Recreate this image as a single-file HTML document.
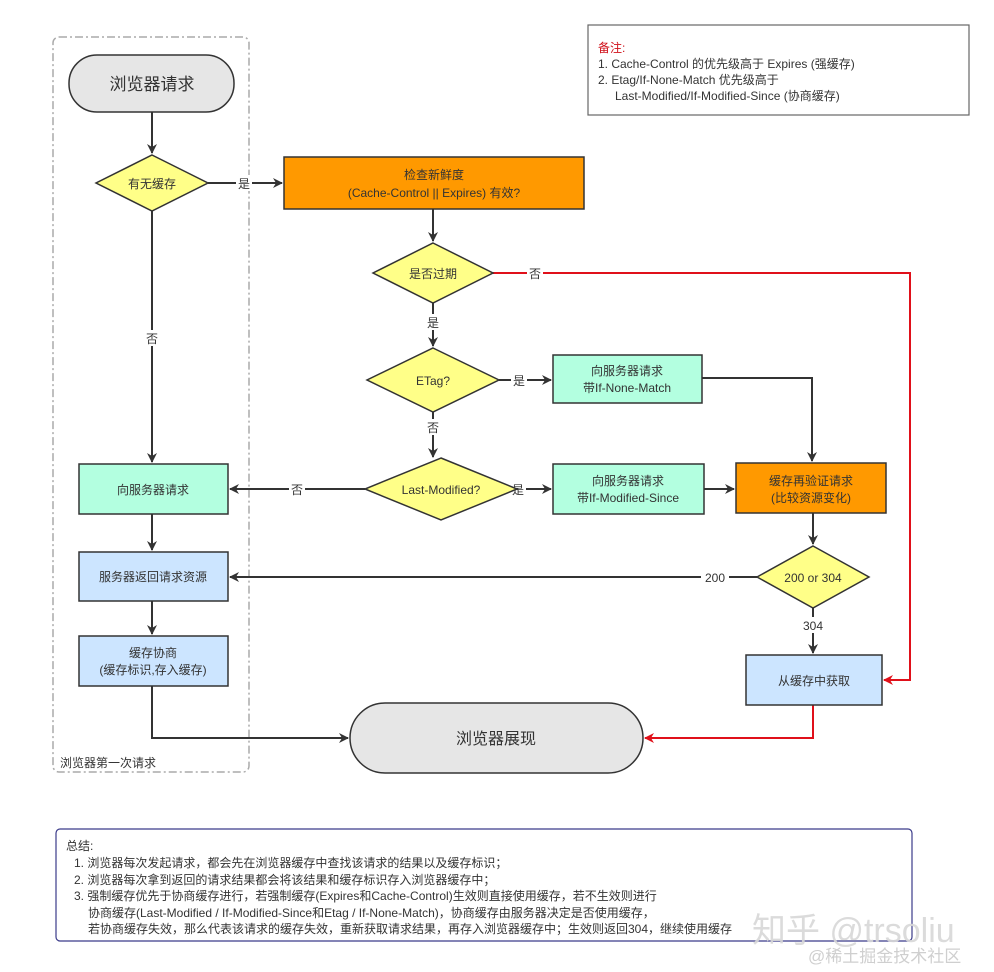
<!DOCTYPE html>
<html><head><meta charset="utf-8"><style>
html,body{margin:0;padding:0;background:#fff}
svg text{font-family:"Liberation Sans","Noto Sans CJK SC",sans-serif;fill:#333}
</style></head><body>
<svg width="994" height="967" viewBox="0 0 994 967" xmlns="http://www.w3.org/2000/svg">
<defs>
<marker id="a" markerWidth="10" markerHeight="10" refX="9" refY="5" orient="auto" markerUnits="userSpaceOnUse"><path d="M0,0 L10,5 L0,10 L3,5 Z" fill="#333"/></marker>
<marker id="r" markerWidth="10" markerHeight="10" refX="9" refY="5" orient="auto" markerUnits="userSpaceOnUse"><path d="M0,0 L10,5 L0,10 L3,5 Z" fill="#e0101a"/></marker>
</defs>
<rect x="53" y="37" width="196" height="735" rx="6" fill="none" stroke="#aaa" stroke-width="1.5" stroke-dasharray="8,3,2,3"/>
<text x="60" y="767" font-size="12">浏览器第一次请求</text>

<g stroke="#333" stroke-width="2" fill="none">
<path d="M152,112 V153" marker-end="url(#a)"/>
<path d="M152,211 V462" marker-end="url(#a)"/>
<path d="M152,514 V550" marker-end="url(#a)"/>
<path d="M152,601 V634" marker-end="url(#a)"/>
<path d="M152,686 V738 H348" marker-end="url(#a)"/>
<path d="M208,183 H282" marker-end="url(#a)"/>
<path d="M433,209 V241" marker-end="url(#a)"/>
<path d="M433,303 V346" marker-end="url(#a)"/>
<path d="M499,380 H551" marker-end="url(#a)"/>
<path d="M702,378 H812 V461" marker-end="url(#a)"/>
<path d="M433,412 V457" marker-end="url(#a)"/>
<path d="M365,489 H230" marker-end="url(#a)"/>
<path d="M517,489 H551" marker-end="url(#a)"/>
<path d="M704,489 H734" marker-end="url(#a)"/>
<path d="M813,513 V544" marker-end="url(#a)"/>
<path d="M757,577 H230" marker-end="url(#a)"/>
<path d="M813,608 V653" marker-end="url(#a)"/>
</g>
<g stroke="#e0101a" stroke-width="2" fill="none">
<path d="M493,273 H910 V680 H884" marker-end="url(#r)"/>
<path d="M813,705 V738 H645" marker-end="url(#r)"/>
</g>
<g font-size="12" text-anchor="middle">
<rect x="236" y="175" width="16" height="16" fill="#fff"/><text x="244" y="188">是</text>
<rect x="144" y="330" width="16" height="16" fill="#fff"/><text x="152" y="343">否</text>
<rect x="527" y="265" width="16" height="16" fill="#fff"/><text x="535" y="278">否</text>
<rect x="425" y="314" width="16" height="16" fill="#fff"/><text x="433" y="327">是</text>
<rect x="511" y="372" width="16" height="16" fill="#fff"/><text x="519" y="385">是</text>
<rect x="425" y="419" width="16" height="16" fill="#fff"/><text x="433" y="432">否</text>
<rect x="289" y="481" width="16" height="16" fill="#fff"/><text x="297" y="494">否</text>
<rect x="510" y="481" width="16" height="16" fill="#fff"/><text x="518" y="494">是</text>
<rect x="701" y="569" width="28" height="16" fill="#fff"/><text x="715" y="582">200</text>
<rect x="799" y="617" width="28" height="16" fill="#fff"/><text x="813" y="630">304</text>
</g>

<g stroke="#333" stroke-width="1.5">
<rect x="69" y="55" width="165" height="57" rx="28" fill="#e6e6e6"/>
<rect x="350" y="703" width="293" height="70" rx="35" fill="#e6e6e6"/>
<polygon points="152,155 208,183 152,211 96,183" fill="#ffff88"/>
<polygon points="433,243 493,273 433,303 373,273" fill="#ffff88"/>
<polygon points="433,348 499,380 433,412 367,380" fill="#ffff88"/>
<polygon points="441,458 517,489 441,520 365,489" fill="#ffff88"/>
<polygon points="813,546 869,577 813,608 757,577" fill="#ffff88"/>
<rect x="284" y="157" width="300" height="52" fill="#ff9900"/>
<rect x="736" y="463" width="150" height="50" fill="#ff9900"/>
<rect x="553" y="355" width="149" height="48" fill="#b3ffe0"/>
<rect x="553" y="464" width="151" height="50" fill="#b3ffe0"/>
<rect x="79" y="464" width="149" height="50" fill="#b3ffe0"/>
<rect x="79" y="552" width="149" height="49" fill="#cce5ff"/>
<rect x="79" y="636" width="149" height="50" fill="#cce5ff"/>
<rect x="746" y="655" width="136" height="50" fill="#cce5ff"/>
</g>
<g text-anchor="middle" font-size="12">
<text x="152" y="90" font-size="17">浏览器请求</text>
<text x="496" y="744" font-size="16">浏览器展现</text>
<text x="152" y="188">有无缓存</text>
<text x="433" y="278">是否过期</text>
<text x="433" y="385">ETag?</text>
<text x="441" y="494">Last-Modified?</text>
<text x="813" y="582">200 or 304</text>
<text x="434" y="179">检查新鲜度</text>
<text x="434" y="197">(Cache-Control || Expires) 有效?</text>
<text x="811" y="485">缓存再验证请求</text>
<text x="811" y="502">(比较资源变化)</text>
<text x="627" y="375">向服务器请求</text>
<text x="627" y="392">带If-None-Match</text>
<text x="628" y="485">向服务器请求</text>
<text x="628" y="502">带If-Modified-Since</text>
<text x="153" y="494">向服务器请求</text>
<text x="153" y="581">服务器返回请求资源</text>
<text x="153" y="657">缓存协商</text>
<text x="153" y="674">(缓存标识,存入缓存)</text>
<text x="814" y="685">从缓存中获取</text>
</g>

<rect x="588" y="25" width="381" height="90" fill="#fff" stroke="#666" stroke-width="1.2"/>
<g font-size="12">
<text x="598" y="52" style="fill:#d0101a">备注:</text>
<text x="598" y="68">1. Cache-Control 的优先级高于 Expires (强缓存)</text>
<text x="598" y="84">2. Etag/If-None-Match 优先级高于</text>
<text x="615" y="100">Last-Modified/If-Modified-Since (协商缓存)</text>
</g>

<rect x="56" y="829" width="856" height="112" rx="4" fill="#fff" stroke="#3b3b8a" stroke-width="1.2"/>
<g font-size="12">
<text x="66" y="850">总结:</text>
<text x="74" y="867">1. 浏览器每次发起请求，都会先在浏览器缓存中查找该请求的结果以及缓存标识；</text>
<text x="74" y="884">2. 浏览器每次拿到返回的请求结果都会将该结果和缓存标识存入浏览器缓存中；</text>
<text x="74" y="900">3. 强制缓存优先于协商缓存进行，若强制缓存(Expires和Cache-Control)生效则直接使用缓存，若不生效则进行</text>
<text x="88" y="917">协商缓存(Last-Modified / If-Modified-Since和Etag / If-None-Match)，协商缓存由服务器决定是否使用缓存，</text>
<text x="88" y="933">若协商缓存失效，那么代表该请求的缓存失效，重新获取请求结果，再存入浏览器缓存中；生效则返回304，继续使用缓存</text>
</g>
<text x="752" y="942" font-size="34" style="fill:#d8d8d8;opacity:0.9">知乎 @trsoliu</text>
<text x="808" y="962" font-size="17" style="fill:#cfcfcf">@稀土掘金技术社区</text>
</svg>
</body></html>
